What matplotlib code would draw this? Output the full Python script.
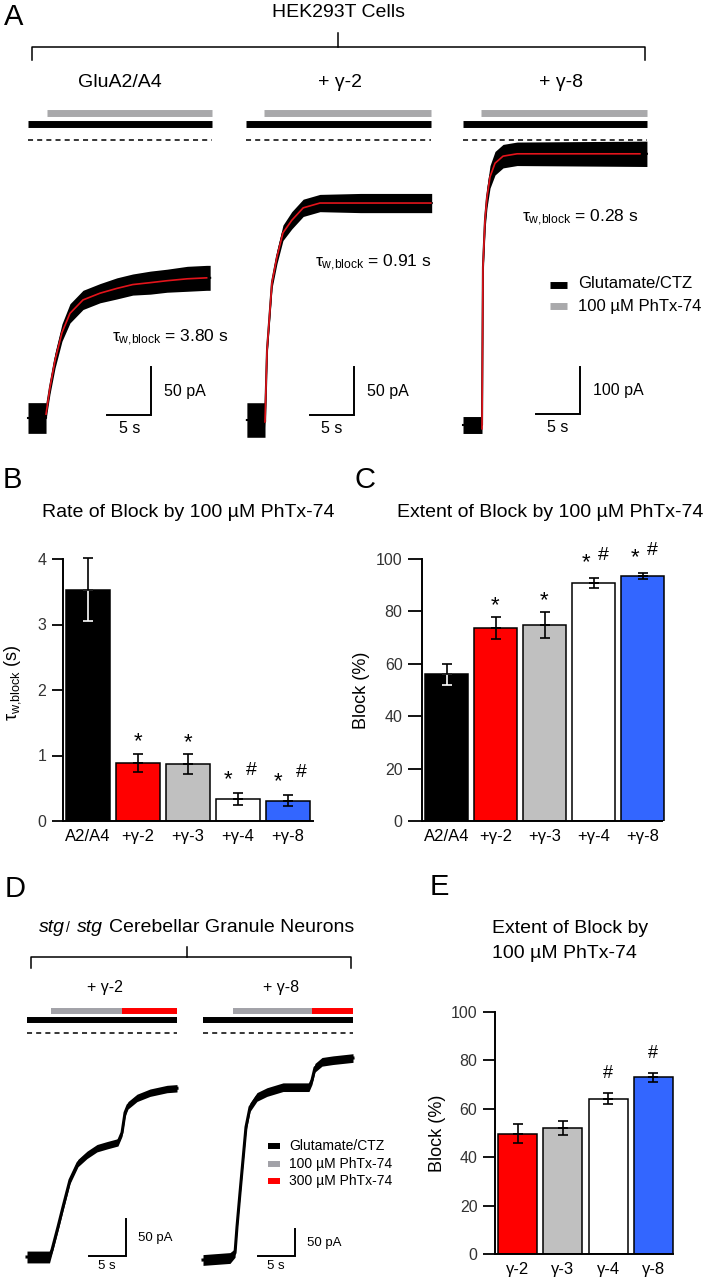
"""Block of GluA2/A4 currents by PhTx-74 — traces (A, D) and summary bars (B, C, E)."""
import matplotlib
matplotlib.use('Agg')
import matplotlib.pyplot as plt
import matplotlib.transforms as mtransforms
import numpy as np

plt.rcParams['font.family'] = ['Liberation Sans', 'DejaVu Sans']
plt.rcParams['mathtext.fontset'] = 'custom'
plt.rcParams['mathtext.rm'] = 'Liberation Sans'
plt.rcParams['mathtext.it'] = 'Liberation Sans'
plt.rcParams['mathtext.bf'] = 'Liberation Sans:bold'

# ── trace data (time in s, current change in pA) ───────────────────
# A: GluA2/A4
a_glu_t = [0.0, 2.05, 2.05, 2.5, 3.07, 3.86, 4.77, 6.25, 8.18, 10.1, 11.9, 13.9, 15.8, 18.1, 20.3, 20.7]
a_glu_i = [0, 0, 6, 32, 60, 89, 109, 123, 130, 135, 139, 141, 143, 145, 146, 146]
a_glu_noise = [16, 16, 7, 7, 8, 9, 10, 10, 10, 11, 11, 12, 12, 13, 13, 13]
a_glu_fit_t = [2.05, 2.5, 3.07, 3.86, 4.77, 6.25, 8.18, 10.1, 11.9, 13.9, 15.8, 18.1, 20.3]
a_glu_fit_i = [4, 32, 60, 89, 109, 123, 130, 135, 139, 141, 143, 145, 146]
# A: + gamma-2
a_g2_t = [0.1, 2.16, 2.16, 2.39, 2.95, 3.52, 4.2, 5.2, 6.5, 8.4, 13.0, 21.1]
a_g2_i = [0, 0, -2, 73, 143, 170, 195, 208, 221, 226, 226, 226]
a_g2_noise = [18, 18, 6, 6, 6, 7, 8, 9, 9, 9, 10, 10]
a_g2_fit_t = [2.16, 2.39, 2.95, 3.52, 4.2, 5.2, 6.5, 8.4, 13.0, 21.0]
a_g2_fit_i = [-2, 73, 143, 170, 195, 208, 221, 226, 226, 226]
# A: + gamma-8
a_g8_t = [0.0, 2.16, 2.16, 2.27, 2.5, 2.73, 3.07, 3.64, 4.55, 6.14, 20.9]
a_g8_i = [0, 0, 0, 336, 436, 485, 528, 557, 572, 577, 577]
a_g8_noise = [18, 18, 10, 15, 20, 22, 24, 25, 25, 25, 27]
a_g8_fit_t = [2.16, 2.27, 2.5, 2.73, 3.07, 3.64, 4.55, 6.14, 20.1]
a_g8_fit_i = [-8, 336, 436, 485, 528, 557, 572, 577, 577]

# D: stg/stg granule neurons
d_g2_t = [0, 3.0, 3.33, 4.13, 4.8, 5.73, 6.8, 8.0, 9.33, 10.67, 12.13, 12.67, 13.07, 13.47, 14.67, 16.4, 18.67, 20.0]
d_g2_i = [0, 0, 9.5, 40.5, 67.6, 104, 127, 138, 147, 151, 155, 168, 195, 205, 215, 222, 227, 228]
d_g2_noise = [8, 8, 5, 5, 5, 5, 5, 5, 5, 5, 5, 5, 5, 5, 5, 5, 5, 5]
d_g8_t = [0, 3.6, 4.27, 4.53, 4.93, 5.33, 5.73, 6.27, 7.2, 8.53, 10.67, 12.93, 14.13, 14.53, 14.93, 15.87, 17.33, 20.0]
d_g8_i = [0, 3.7, 13, 61, 124, 185, 246, 283, 302, 311, 320, 320, 320, 333, 356, 367, 370, 374]
d_g8_noise = [10, 10, 8, 8, 8, 8, 8, 8, 8, 8, 8, 8, 8, 8, 8, 8, 8, 8]

# solution application bars (start, end) in s
a_black = [(0, 20.9), (0, 21.0), (0, 20.9)]
a_gray = [(2.16, 20.9), (2.05, 21.0), (2.05, 20.9)]
d_black = [(0, 20), (0, 20)]
d_gray = [(3.2, 12.67), (4.0, 14.5)]
d_red = [(12.67, 20), (14.5, 20)]

a_tau_text = ['3.80', '0.91', '0.28']

# ── summary data ───────────────────────────────────────────────────
bc_labels = ['A2/A4', '+γ-2', '+γ-3', '+γ-4', '+γ-8']
b_tau = [3.53, 0.89, 0.87, 0.34, 0.31]
b_sem = [0.48, 0.14, 0.15, 0.09, 0.08]
c_block = [56.0, 73.6, 74.8, 90.8, 93.5]
c_sem = [4.0, 4.2, 5.0, 2.0, 1.2]
bc_colors = ['black', '#ff0000', '#c0c0c0', 'white', '#3366ff']
bc_star = [False, True, True, True, True]
bc_hash = [False, False, False, True, True]

e_labels = ['γ-2', 'γ-3', 'γ-4', 'γ-8']
e_block = [49.7, 52.0, 64.2, 73.0]
e_sem = [4.0, 2.8, 2.3, 2.0]
e_colors = ['#ff0000', '#c0c0c0', 'white', '#3366ff']
e_hash = [False, False, True, True]

RED_FIT = '#e3141b'
GRAY_A = '#a9a9ab'
GRAY_D = '#a2a2a8'

# ── figure in pixel units ──────────────────────────────────────────
W, H = 709, 1280
fig = plt.figure(figsize=(W / 100, H / 100), dpi=100)
PX = mtransforms.Affine2D().scale(1 / W, -1 / H).translate(0, 1) + fig.transFigure


def px_axes(l, t, r, b):
    return fig.add_axes([l / W, 1 - b / H, (r - l) / W, (b - t) / H])


def trace_axes(box, x0, y0, sx, sy):
    l, t, r, b = box
    ax = px_axes(l, t, r, b)
    ax.set_xlim((l - x0) / sx, (r - x0) / sx)
    ax.set_ylim((y0 - b) / sy, (y0 - t) / sy)
    ax.axis('off')
    return ax


def app_bar(ax, span, ypx, color, lw):
    tr = mtransforms.blended_transform_factory(ax.transData, PX)
    ax.plot(span, [ypx, ypx], color=color, lw=lw, solid_capstyle='butt',
            transform=tr, clip_on=False)


def dashed(ax, span, ypx):
    tr = mtransforms.blended_transform_factory(ax.transData, PX)
    ax.plot(span, [ypx, ypx], color='black', lw=1.1, ls=(0, (3.3, 2.7)),
            transform=tr, clip_on=False)


def scale_bar(ax, t_end, i0, i_len, label, fs, dx, dy):
    ax.plot([t_end - 5, t_end, t_end], [i0, i0, i0 + i_len], color='black',
            lw=1.4, solid_joinstyle='miter', clip_on=False)
    ax.annotate(label, xy=(t_end, i0 + i_len / 2), xytext=(dx, 0),
                textcoords='offset pixels', ha='left', va='center', fontsize=fs)
    ax.annotate('5 s', xy=(t_end - 2.5, i0), xytext=(0, -dy),
                textcoords='offset pixels', ha='center', va='center', fontsize=fs)


# ── panel A traces ─────────────────────────────────────────────────
a_cols = [
    dict(box=(18, 100, 236, 445), x0=28, y0=418, sy=0.96, t=a_glu_t, i=a_glu_i,
         n=a_glu_noise, ft=a_glu_fit_t, fi=a_glu_fit_i, sb=(14.0, 3.0, 50, '50 pA')),
    dict(box=(238, 100, 452, 445), x0=246, y0=420, sy=0.96, t=a_g2_t, i=a_g2_i,
         n=a_g2_noise, ft=a_g2_fit_t, fi=a_g2_fit_i, sb=(12.27, 5.2, 50, '50 pA')),
    dict(box=(455, 100, 665, 445), x0=463, y0=425, sy=0.47, t=a_g8_t, i=a_g8_i,
         n=a_g8_noise, ft=a_g8_fit_t, fi=a_g8_fit_i, sb=(13.3, 23.4, 100, '100 pA')),
]
for k, c in enumerate(a_cols):
    ax = trace_axes(c['box'], c['x0'], c['y0'], 8.8, c['sy'])
    t = np.array(c['t']); i = np.array(c['i']); n = np.array(c['n'])
    ax.fill_between(t, i - n, i + n, color='black', lw=0)
    ax.plot(t, i, color='black', lw=1.5)
    ax.plot(c['ft'], c['fi'], color=RED_FIT, lw=1.2)
    app_bar(ax, a_gray[k], 113, GRAY_A, 5.0)
    app_bar(ax, a_black[k], 124, 'black', 5.0)
    dashed(ax, a_black[k], 140)
    t_end, i0, i_len, lab = c['sb']
    scale_bar(ax, t_end, i0, i_len, lab, 11.5, 13, 13)

# ── panel D traces ─────────────────────────────────────────────────
d_cols = [
    dict(box=(15, 1000, 192, 1278), x0=27, y0=1257, sy=0.74, t=d_g2_t, i=d_g2_i,
         n=d_g2_noise, sb=(13.2, 1.35)),
    dict(box=(195, 1000, 368, 1278), x0=203, y0=1260, sy=0.54, t=d_g8_t, i=d_g8_i,
         n=d_g8_noise, sb=(12.27, 7.4)),
]
for k, c in enumerate(d_cols):
    ax = trace_axes(c['box'], c['x0'], c['y0'], 7.5, c['sy'])
    t = np.array(c['t']); i = np.array(c['i']); n = np.array(c['n'])
    ax.fill_between(t, i - n, i + n, color='black', lw=0)
    ax.plot(t, i, color='black', lw=2.2)
    app_bar(ax, d_gray[k], 1011, GRAY_D, 4.3)
    app_bar(ax, d_red[k], 1011, '#ff0000', 4.3)
    app_bar(ax, d_black[k], 1020, 'black', 4.3)
    dashed(ax, d_black[k], 1033)
    scale_bar(ax, c['sb'][0], c['sb'][1], 50, '50 pA', 9.5, 12, 10)


# ── bar charts ─────────────────────────────────────────────────────
def bar_panel(box, vals, sems, colors, labels, ylim, yticks, width, tick_len, right):
    ax = px_axes(*box)
    x = np.arange(len(vals))
    ax.bar(x, vals, width=width, color=colors, edgecolor='black', linewidth=1.1, zorder=2)
    for xi, v, s, col in zip(x, vals, sems, colors):
        low_col = 'white' if col == 'black' else 'black'
        ax.errorbar(xi, v, yerr=[[s], [0]], fmt='none', ecolor=low_col,
                    elinewidth=1.2, capsize=3.8, capthick=1.2, zorder=3)
        ax.errorbar(xi, v, yerr=[[0], [s]], fmt='none', ecolor='black',
                    elinewidth=1.2, capsize=3.8, capthick=1.2, zorder=3, clip_on=False)
    ax.set_xlim(-0.5, len(vals) - 0.5)
    ax.set_ylim(*ylim)
    ax.set_yticks(yticks)
    ax.set_xticks(x)
    ax.set_xticklabels(labels, fontsize=12)
    ax.tick_params(axis='x', length=0, pad=6)
    ax.tick_params(axis='y', length=tick_len, width=1.3, pad=4, labelsize=11.5,
                   labelcolor='#333333', direction='out')
    for side in ('top', 'right'):
        ax.spines[side].set_visible(False)
    for side in ('left', 'bottom'):
        ax.spines[side].set_linewidth(1.4)
    ax.spines['bottom'].set_bounds(-0.5, right)
    ax.patch.set_alpha(0)
    return ax


def mark(ax, xi, top, s, dx, dy, fs):
    ax.annotate(s, xy=(xi, top), xytext=(dx, dy), textcoords='offset pixels',
                ha='center', va='baseline', fontsize=fs, annotation_clip=False)


# B
axb = bar_panel((63, 559, 313, 821), b_tau, b_sem, bc_colors, bc_labels,
                (0, 4), [0, 1, 2, 3, 4], 0.88, 8, 4.5)
for k in range(5):
    top = b_tau[k] + b_sem[k]
    if bc_star[k] and not bc_hash[k]:
        mark(axb, k, top, '*', 0, 6, 16)
    elif bc_hash[k]:
        mark(axb, k, top, '*', -10, 8, 16)
        mark(axb, k, top, '#', 13, 18, 14)

# C
axc = bar_panel((422, 559, 667, 821), c_block, c_sem, bc_colors, bc_labels,
                (0, 100), [0, 20, 40, 60, 80, 100], 0.88, 10, 4.4)
for k in range(5):
    top = c_block[k] + c_sem[k]
    if bc_star[k] and not bc_hash[k]:
        mark(axc, k, top, '*', 0, 6, 16)
    elif bc_hash[k]:
        mark(axc, k, top, '*', -7, 10, 16)
        mark(axc, k, top, '#', 10, 18, 14)

# E
axe = bar_panel((495, 1012, 676, 1254), e_block, e_sem, e_colors, e_labels,
                (0, 100), [0, 20, 40, 60, 80, 100], 0.86, 8.6, 3.43)
for k in range(4):
    if e_hash[k]:
        mark(axe, k, e_block[k] + e_sem[k], '#', 0, 15, 13)

# ── overlay: labels, brackets, legends ─────────────────────────────
ov = fig.add_axes([0, 0, 1, 1])
ov.set_xlim(0, W)
ov.set_ylim(H, 0)
ov.axis('off')
ov.patch.set_alpha(0)

for letter, x, y in [('A', 4, 25), ('B', 3, 488), ('C', 354, 488), ('D', 5, 897), ('E', 430, 895)]:
    ov.text(x, y, letter, fontsize=21, ha='left', va='baseline')

# panel A header
ov.text(338, 17, 'HEK293T Cells', fontsize=14, ha='center', va='baseline')
ov.plot([32, 32, 645, 645], [60, 47, 47, 60], color='black', lw=1.1)
ov.plot([338, 338], [47, 33], color='black', lw=1.1)
for s, x in [('GluA2/A4', 120), ('+ γ-2', 340), ('+ γ-8', 561)]:
    ov.text(x, 87, s, fontsize=14, ha='center', va='baseline')

# tau labels
for s, x, y in zip(a_tau_text, [112, 315, 522], [342, 267, 222]):
    ov.text(x, y, r'$\tau_{\mathrm{w{,}block}}$ = ' + s + ' s', fontsize=12.5,
            ha='left', va='baseline')

# legend A
ov.plot([550, 567], [285, 285], color='black', lw=5, solid_capstyle='butt')
ov.plot([550, 567], [306, 306], color=GRAY_A, lw=5, solid_capstyle='butt')
ov.text(578, 283, 'Glutamate/CTZ', fontsize=12, ha='left', va='center')
ov.text(578, 306, '100 µM PhTx-74', fontsize=12, ha='left', va='center')

# B / C / E titles and y labels
ov.text(188, 517, 'Rate of Block by 100 µM PhTx-74', fontsize=14, ha='center', va='baseline')
ov.text(550, 517, 'Extent of Block by 100 µM PhTx-74', fontsize=14, ha='center', va='baseline')
ov.text(492, 933, 'Extent of Block by', fontsize=14, ha='left', va='baseline')
ov.text(492, 958, '100 µM PhTx-74', fontsize=14, ha='left', va='baseline')
ov.text(13, 683, r'$\tau_{\mathrm{w{,}block}}$ (s)', fontsize=13, rotation=90, ha='center', va='center')
ov.text(362, 690, 'Block (%)', fontsize=13, rotation=90, ha='center', va='center')
ov.text(438, 1133, 'Block (%)', fontsize=13, rotation=90, ha='center', va='center')

# panel D header
ov.text(39, 932, 'stg', fontsize=14, style='italic', ha='left', va='baseline')
ov.text(66, 932, '/', fontsize=10, ha='left', va='baseline')
ov.text(77, 932, 'stg', fontsize=14, style='italic', ha='left', va='baseline')
ov.text(109, 932, 'Cerebellar Granule Neurons', fontsize=14, ha='left', va='baseline')
ov.plot([31, 31, 351, 351], [968, 957, 957, 968], color='black', lw=1.1)
ov.plot([187, 187], [957, 947], color='black', lw=1.1)
for s, x in [('+ γ-2', 105), ('+ γ-8', 281)]:
    ov.text(x, 992, s, fontsize=11.5, ha='center', va='baseline')

# legend D
for y, col, s in [(1146, 'black', 'Glutamate/CTZ'), (1164, GRAY_D, '100 µM PhTx-74'),
                  (1181, '#ff0000', '300 µM PhTx-74')]:
    ov.plot([268, 280], [y, y], color=col, lw=4.3, solid_capstyle='butt')
    ov.text(289, y, s, fontsize=10, ha='left', va='center')

fig.savefig('out.png', dpi=100)
